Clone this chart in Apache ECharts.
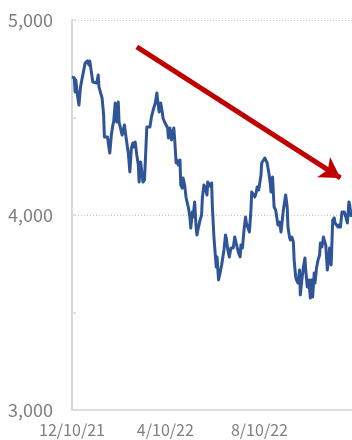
<!DOCTYPE html>
<html>
<head>
<meta charset="utf-8">
<script src="https://cdn.jsdelivr.net/npm/echarts@6/dist/echarts.min.js"></script>
<style>
html,body{margin:0;padding:0;background:#fff;}
#chart{width:352px;height:440px;}
</style>
</head>
<body>
<div id="chart"></div>
<script>
// Start date of the series; day offsets are counted from it
const startDate = [2021, 11, 10];
const axisEndOffset = 363;
const dayOffsets = [
0,3,4,5,7,9,11,14,17,20,22,23,25,27,29,32,34,35,37,39,41,42,44,46,48,49,51,53,54,56,58,60,61,63,65,66,68,70,72,73,75,77,79,80,82,84,86,87,89,92,94,
97,99,101,103,104,106,108,110,111,113,115,117,118,120,122,124,125,127,129,130,132,133,135,136,138,140,141,143,144,146,148,149,151,153,154,156,157,159,161,162,164,166,168,169,171,173,175,176,
178,180,181,182,184,186,187,188,190,192,194,195,197,199,200,202,204,206,207,209,211,213,214,216,218,219,221,223,225,226,228,230,232,233,235,237,239,240,242,244,245,246,248,250,251,253,255,257,258,260,262,264,265,267,269,
271,272,274,276,277,279,280,282,283,285,287,288,290,291,293,295,296,298,300,302,303,305,307,309,310,312,314,315,317,319,321,322,324,326,327,329,331,333,334,336,338,340,341,343,345,346,348,350,352,353,355,357,359,360,362
];
const values = [
4708,4703,4631,4692,4615,4564,4656,4718,4779,4790,4769,4790,4785,4682,4672,4677,4718,4656,4651,4600,4513,4400,4395,4400,4344,4318,4410,4462,4477,4574,4477,4579,4477,4472,4410,4400,4462,4400,4344,4318,4221,4344,4369,4349,4374,4308,4256,4169,4272,4169,4180,
4451,4451,4451,4503,4497,4549,4574,4626,4590,4528,4574,4528,4497,4477,4487,4446,4395,4446,4385,4395,4446,4395,4267,4282,4256,4282,4154,4138,4190,4154,4087,4077,4036,3985,3933,4015,3990,4067,3933,3897,3938,3974,4000,4087,4154,4138,4103,4169,
4169,4144,4164,4041,3887,3785,3733,3785,3667,3703,3744,3754,3821,3897,3882,3821,3785,3831,3821,3831,3887,3882,3836,3805,3785,3846,3831,3923,3990,3959,3964,3913,4026,4118,4118,4092,4118,4144,4128,4118,4205,4267,4272,4292,4297,4267,4221,4164,4118,4195,4041,4026,4000,3949,3964,
3913,3908,4026,4077,4103,4041,3938,3887,3872,3887,3862,3769,3682,3667,3651,3718,3590,3667,3733,3780,3718,3631,3667,3574,3667,3580,3703,3651,3728,3769,3795,3856,3836,3887,3872,3846,3718,3780,3831,3744,3974,3985,3959,3964,3938,3949,3938,4015,4010,4015,3990,3959,4067,4051,3990
];
// x tick label positions (day offsets): 12/10/21, 4/10/22, 8/10/22
const tickOffsets = [0, 121, 243];
// y range and ticks
const yMin = 3000, yMax = 5000, yStep = 1000;
// trend arrow: [dayOffset, value] start and end (tip)
const arrowStart = [84, 4862];
const arrowEnd = [348, 4190];

function dateLabel(off){
  const d = new Date(startDate[0], startDate[1], startDate[2] + Math.round(off));
  return (d.getMonth() + 1) + '/' + d.getDate() + '/' + String(d.getFullYear()).slice(2);
}
const seriesData = dayOffsets.map((d, i) => [d, values[i]]);

const chart = echarts.init(document.getElementById('chart'), null, {renderer: 'canvas'});
chart.setOption({
  animation: false,
  backgroundColor: '#ffffff',
  grid: {left: 72, right: 0, top: 20, bottom: 30, containLabel: false},
  xAxis: {
    type: 'value',
    min: 0,
    max: axisEndOffset,
    axisLine: {show: true, lineStyle: {color: '#d9d9d9', width: 1.5}},
    axisTick: {show: false},
    splitLine: {show: false},
    axisLabel: {
      customValues: tickOffsets,
      showMinLabel: true,
      color: '#7f7f7f',
      fontSize: 16,
      fontFamily: '"Noto Sans CJK JP", "Noto Sans", sans-serif',
      margin: 12,
      hideOverlap: false,
      formatter: function (v) { return dateLabel(v); }
    }
  },
  yAxis: {
    type: 'value',
    min: yMin,
    max: yMax,
    interval: yStep,
    axisLine: {show: true, lineStyle: {color: '#d9d9d9', width: 2}},
    axisTick: {show: true, inside: true, length: 4, lineStyle: {color: '#d9d9d9', width: 1.5}},
    minorTick: {show: true, splitNumber: 2, length: 4, lineStyle: {color: '#d9d9d9', width: 1.5}},
    splitLine: {show: true, lineStyle: {color: '#c8c8c8', type: [1, 2], width: 1}},
    axisLabel: {
      color: '#7f7f7f',
      fontSize: 18,
      fontFamily: '"Noto Sans CJK JP", "Noto Sans", sans-serif',
      margin: 19,
      formatter: function (v) { return v.toLocaleString('en-US'); }
    }
  },
  series: [{
    type: 'line',
    data: seriesData,
    showSymbol: false,
    symbol: 'none',
    lineStyle: {color: '#2F5597', width: 3, join: 'round'},
    silent: true,
    markLine: {
      silent: true,
      symbol: ['none', 'arrow'],
      symbolSize: [18, 20],
      label: {show: false},
      emphasis: {disabled: true},
      lineStyle: {color: '#C00000', width: 5, type: 'solid'},
      data: [[
        {coord: arrowStart},
        {coord: arrowEnd}
      ]]
    }
  }]
});
</script>
</body>
</html>
